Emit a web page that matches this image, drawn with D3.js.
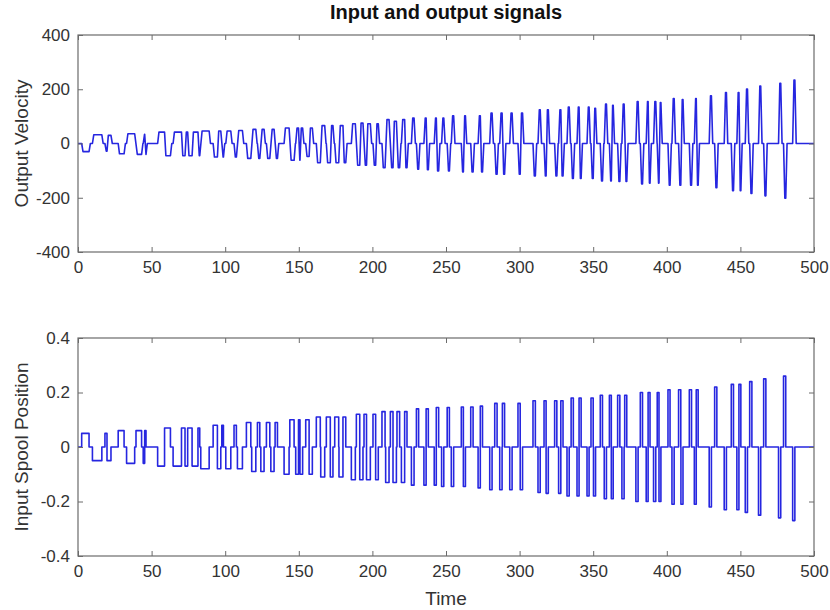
<!DOCTYPE html>
<html>
<head>
<meta charset="utf-8">
<script src="https://cdn.jsdelivr.net/npm/d3@7"></script>
<style>
body { margin: 0; background: #fff; }
svg { display: block; font-family: "Liberation Sans", Arial, sans-serif; }
</style>
</head>
<body>
<svg id="chart" width="830" height="610"></svg>
<script>
// pulses: start time, end time, spool position, output velocity
const pulseStart = [
  2.5, 9.8, 18.3, 19.7, 27.3, 33.0, 39.4, 44.3, 45.3, 54.1,
  58.8, 64.6, 70.3, 72.7, 74.5, 77.5, 81.5, 83.4, 91.8, 94.7,
  97.7, 100.4, 106.0, 108.3, 114.4, 118.0, 121.9, 124.2, 128.0, 131.0,
  133.9, 140.0, 143.9, 147.9, 149.8, 150.8, 154.7, 157.0, 161.9, 164.9,
  168.7, 171.4, 174.4, 177.3, 180.0, 185.7, 189.1, 191.4, 194.3, 196.0,
  200.4, 202.2, 206.5, 209.0, 212.2, 214.0, 216.7, 219.7, 221.9, 226.5,
  229.9, 235.0, 236.5, 242.0, 243.4, 247.0, 250.8, 253.6, 260.4, 261.8,
  266.8, 271.8, 273.3, 279.7, 283.1, 286.5, 288.3, 293.3, 298.9, 300.4,
  309.1, 312.5, 316.6, 318.0, 323.8, 326.5, 328.0, 332.2, 335.0, 339.0,
  340.4, 345.8, 348.5, 350.2, 354.8, 357.5, 361.0, 362.3, 366.6, 369.5,
  371.4, 379.0, 382.0, 386.0, 387.3, 391.0, 393.5, 394.7, 400.8, 403.5,
  408.0, 409.6, 415.3, 418.7, 420.0, 428.8, 432.5, 439.0, 443.8, 447.6,
  449.0, 453.3, 456.3, 462.3, 465.8, 475.9, 479.3, 485.5
];
const pulseEnd = [
  7.5, 16.2, 19.7, 22.4, 31.3, 38.5, 43.2, 45.3, 46.2, 58.8,
  62.8, 70.3, 72.7, 74.5, 77.5, 81.5, 82.7, 89.1, 94.7, 97.0,
  98.8, 103.8, 107.6, 111.7, 117.4, 120.8, 123.5, 126.4, 130.3, 133.2,
  135.5, 143.4, 146.8, 149.8, 150.8, 152.6, 157.0, 159.2, 164.6, 167.6,
  171.4, 173.2, 177.1, 180.0, 181.9, 188.4, 191.4, 193.6, 196.0, 198.6,
  202.2, 204.0, 208.6, 211.3, 214.0, 216.3, 218.5, 221.9, 223.5, 228.3,
  231.4, 236.5, 238.0, 243.4, 245.0, 248.5, 252.3, 255.2, 261.8, 263.2,
  268.4, 273.3, 274.8, 281.3, 284.7, 288.1, 289.8, 294.9, 300.4, 302.0,
  310.7, 314.0, 318.0, 319.5, 325.3, 328.0, 329.5, 333.7, 336.5, 340.4,
  341.8, 347.2, 350.0, 351.6, 356.3, 359.0, 362.3, 363.6, 368.1, 371.0,
  372.8, 380.5, 383.5, 387.3, 388.6, 392.5, 394.7, 396.0, 402.2, 405.0,
  409.5, 411.0, 416.8, 420.0, 421.3, 430.3, 434.0, 440.5, 445.3, 449.0,
  450.3, 454.8, 457.8, 463.8, 467.3, 477.4, 480.8, 487.0
];
const spoolLevel = [
  0.05, -0.05, 0.05, -0.05, 0.06, -0.06, 0.06, -0.06, 0.06, -0.07,
  0.07, -0.07, 0.07, -0.07, 0.07, -0.07, 0.07, -0.08, 0.08, -0.08,
  0.08, -0.08, 0.08, -0.08, 0.09, -0.09, 0.09, -0.09, 0.09, -0.09,
  0.09, -0.10, 0.10, -0.10, 0.10, -0.10, 0.10, -0.10, 0.11, -0.11,
  0.11, -0.11, 0.11, -0.11, 0.11, -0.12, 0.12, -0.12, 0.12, -0.12,
  0.12, -0.12, 0.13, -0.13, 0.13, -0.13, 0.13, -0.13, 0.13, -0.14,
  0.14, -0.14, 0.14, -0.14, 0.145, -0.145, 0.145, -0.145, 0.147, -0.145,
  0.147, -0.15, 0.15, -0.157, 0.16, -0.157, 0.16, -0.157, 0.16, -0.157,
  0.17, -0.167, 0.17, -0.17, 0.17, -0.17, 0.17, -0.18, 0.18, -0.18,
  0.18, -0.18, 0.18, -0.18, 0.19, -0.19, 0.19, -0.19, 0.19, -0.19,
  0.19, -0.20, 0.20, -0.20, 0.20, -0.20, 0.20, -0.20, 0.21, -0.21,
  0.21, -0.21, 0.21, -0.21, 0.21, -0.22, 0.22, -0.23, 0.23, -0.23,
  0.23, -0.24, 0.24, -0.25, 0.25, -0.26, 0.26, -0.27
];
const velocityLevel = [
  -30, 32, -28, 30, -38, 36, -40, 34, -40, 42,
  -45, 42, -45, 42, -45, 42, -45, 46, -50, 46,
  -50, 46, -50, 48, -55, 52, -55, 52, -55, 52,
  -55, 57, -62, 57, -62, 57, -48, 57, -71, 66,
  -71, 66, -71, 66, -71, 73, -80, 75, -80, 73,
  -80, 73, -89, 88, -89, 82, -89, 88, -89, 94,
  -95, 94, -97, 94, -101, 94, -101, 102, -105, 102,
  -105, 102, -105, 112, -113, 112, -113, 112, -113, 112,
  -120, 124, -120, 124, -120, 124, -120, 134, -129, 134,
  -129, 134, -129, 130, -138, 145, -138, 141, -140, 145,
  -140, 155, -149, 155, -146, 155, -146, 151, -154, 166,
  -154, 162, -154, 166, -154, 176, -163, 188, -174, 188,
  -174, 201, -184, 212, -193, 222, -202, 234
];

const timeTicks = [0, 50, 100, 150, 200, 250, 300, 350, 400, 450, 500];
const velocityTicks = [-400, -200, 0, 200, 400];
const spoolTicks = [-0.4, -0.2, 0, 0.2, 0.4];

const plotLeft = 78, plotRight = 814;
const lineColor = "#2626e0";
const axisColor = "#6b6b6b";
const textColor = "#333";
const ramp = 0.9;

const svg = d3.select("#chart");

const x = d3.scaleLinear().domain([0, 500]).range([plotLeft, plotRight]);

// input: zero-order hold between breakpoints
let spoolPts = [[0, 0]];
pulseStart.forEach((s, i) => {
    spoolPts.push([s, spoolLevel[i]]);
    if (i == pulseStart.length - 1 || pulseStart[i + 1] > pulseEnd[i] + 0.01) {
        spoolPts.push([pulseEnd[i], 0]);
    }
});
spoolPts.push([500, 0]);

// output: straight lines between samples, each edge takes about one sample
let velPts = [[0, 0]];
pulseStart.forEach((s, i) => {
    let prevEnd = i > 0 ? pulseEnd[i - 1] : -10;
    let joined = s - prevEnd < ramp + 0.05;
    if (!joined) velPts.push([s, 0]);
    velPts.push([s + ramp, velocityLevel[i]]);
    velPts.push([pulseEnd[i], velocityLevel[i]]);
    let nextJoined = i < pulseStart.length - 1 && pulseStart[i + 1] - pulseEnd[i] < ramp + 0.05;
    if (!nextJoined) velPts.push([pulseEnd[i] + ramp, 0]);
});
velPts.push([500, 0]);

function panel(top, bottom, domain, yTicks, label, pts, curve) {
    let y = d3.scaleLinear().domain(domain).range([bottom, top]);
    let g = svg.append("g");

    let line = d3.line()
        .x(d => x(d[0]))
        .y(d => y(d[1]))
        .curve(curve);
    g.append("path")
        .datum(pts)
        .attr("fill", "none")
        .attr("stroke", lineColor)
        .attr("stroke-width", 1.6)
        .attr("stroke-linejoin", "round")
        .attr("d", line);

    let xb = g.append("g").attr("transform", `translate(0,${bottom})`)
        .call(d3.axisBottom(x).tickValues(timeTicks).tickSize(-5).tickSizeOuter(0).tickPadding(9).tickFormat(d => String(d)));
    let xt = g.append("g").attr("transform", `translate(0,${top})`)
        .call(d3.axisTop(x).tickValues(timeTicks).tickSize(-5).tickSizeOuter(0).tickFormat(""));
    let yl = g.append("g").attr("transform", `translate(${plotLeft},0)`)
        .call(d3.axisLeft(y).tickValues(yTicks).tickSize(-5).tickSizeOuter(0).tickPadding(8).tickFormat(d => String(d)));
    let yr = g.append("g").attr("transform", `translate(${plotRight},0)`)
        .call(d3.axisRight(y).tickValues(yTicks).tickSize(-5).tickSizeOuter(0).tickFormat(""));

    [xb, xt, yl, yr].forEach(a => {
        a.select(".domain").remove();
        a.selectAll("line").attr("stroke", axisColor);
        a.selectAll("text").attr("fill", textColor).style("font-size", "17px");
    });

    g.append("rect")
        .attr("x", plotLeft).attr("y", top)
        .attr("width", plotRight - plotLeft).attr("height", bottom - top)
        .attr("fill", "none").attr("stroke", axisColor).attr("stroke-width", 1.2);

    g.append("text")
        .attr("transform", `translate(21,${(top + bottom) / 2}) rotate(-90)`)
        .attr("text-anchor", "middle")
        .attr("dy", "0.35em")
        .attr("fill", textColor)
        .style("font-size", "19px")
        .text(label);
}

panel(35, 252, [-400, 400], velocityTicks, "Output Velocity", velPts, d3.curveLinear);
panel(338, 556, [-0.4, 0.4], spoolTicks, "Input Spool Position", spoolPts, d3.curveStepAfter);

svg.append("text")
    .attr("x", (plotLeft + plotRight) / 2).attr("y", 19)
    .attr("text-anchor", "middle")
    .attr("fill", "#111")
    .style("font-size", "20px").style("font-weight", "bold")
    .text("Input and output signals");

svg.append("text")
    .attr("x", (plotLeft + plotRight) / 2).attr("y", 605)
    .attr("text-anchor", "middle")
    .attr("fill", textColor)
    .style("font-size", "19px")
    .text("Time");
</script>
</body>
</html>
